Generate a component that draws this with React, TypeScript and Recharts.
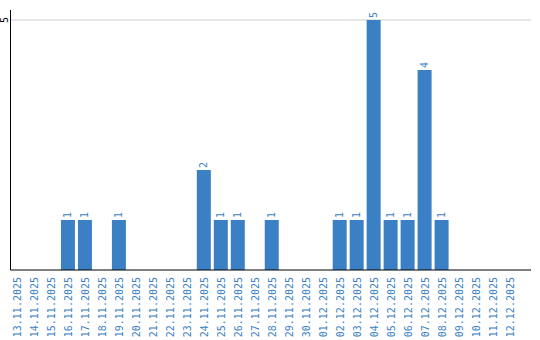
import { BarChart, Bar, XAxis, YAxis, CartesianGrid, LabelList } from "recharts"

const dates = [
  "13.11.2025", "14.11.2025", "15.11.2025", "16.11.2025", "17.11.2025", "18.11.2025",
  "19.11.2025", "20.11.2025", "21.11.2025", "22.11.2025", "23.11.2025", "24.11.2025",
  "25.11.2025", "26.11.2025", "27.11.2025", "28.11.2025", "29.11.2025", "30.11.2025",
  "01.12.2025", "02.12.2025", "03.12.2025", "04.12.2025", "05.12.2025", "06.12.2025",
  "07.12.2025", "08.12.2025", "09.12.2025", "10.12.2025", "11.12.2025", "12.12.2025",
]

const counts = [
  0, 0, 0, 1, 1, 0,
  1, 0, 0, 0, 0, 2,
  1, 1, 0, 1, 0, 0,
  0, 1, 1, 5, 1, 1,
  4, 1, 0, 0, 0, 0,
]

const yTicks = [5]

const data = dates.map((d, i) => ({ date: d, count: counts[i] }))

const BLUE = "#3b7fc4"
const FONT = "'DejaVu Sans Mono', monospace"

function XTick(props: any) {
  const { x, payload } = props
  return (
    <text
      transform={`translate(${x},277) rotate(-90)`}
      textAnchor="end"
      dominantBaseline="central"
      fontFamily={FONT}
      fontSize={10}
      fill={BLUE}
    >
      {payload.value}
    </text>
  )
}

function YTick(props: any) {
  const { y, payload } = props
  return (
    <text
      transform={`translate(4,${y}) rotate(-90)`}
      textAnchor="middle"
      dominantBaseline="central"
      fontFamily={FONT}
      fontSize={10}
      fill="#000"
    >
      {payload.value}
    </text>
  )
}

function ValueLabel(props: any) {
  const { x, y, width, value } = props
  if (!value) return null
  return (
    <text
      transform={`translate(${x + width / 2},${y - 2}) rotate(-90)`}
      textAnchor="start"
      dominantBaseline="central"
      fontFamily={FONT}
      fontSize={10}
      fill={BLUE}
    >
      {value}
    </text>
  )
}

export default function App() {
  return (
    <div style={{ position: "absolute", left: 0, top: 0, background: "#fff" }}>
      <BarChart
        width={540}
        height={340}
        data={data}
        margin={{ top: 10, right: 9, left: 0, bottom: 0 }}
        barSize={14}
      >
        <CartesianGrid vertical={false} horizontalValues={yTicks} stroke="#cccccc" />
        <XAxis
          dataKey="date"
          interval={0}
          height={70}
          tick={<XTick />}
          tickLine={false}
          axisLine={{ stroke: "#000" }}
          padding={{ left: -1.5, right: 12.5 }}
        />
        <YAxis
          width={10.5}
          domain={[0, 5.2]}
          ticks={yTicks}
          tick={<YTick />}
          tickLine={false}
          axisLine={{ stroke: "#000" }}
        />
        <Bar dataKey="count" fill={BLUE} isAnimationActive={false}>
          <LabelList dataKey="count" content={<ValueLabel />} />
        </Bar>
      </BarChart>
    </div>
  )
}
